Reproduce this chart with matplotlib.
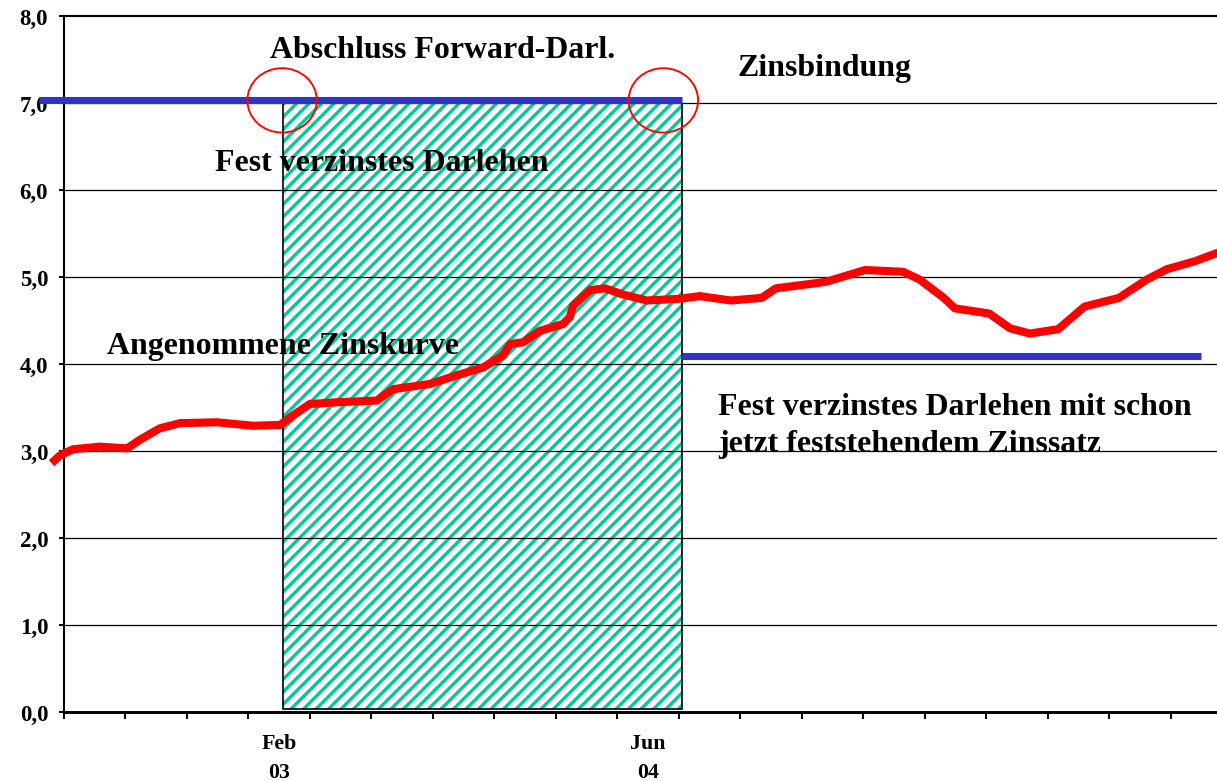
import matplotlib
matplotlib.use("Agg")
import matplotlib.pyplot as plt
from matplotlib.patches import Rectangle, Ellipse

# x in tick units (one unit = one tick interval), y in percent
curve_x = [-0.20, -0.06, 0.15, 0.59, 1.03, 1.24, 1.56, 1.89, 2.49, 3.08,
           3.52, 3.73, 4.00, 4.44, 5.09, 5.35, 5.95, 6.39, 6.82, 7.14,
           7.26, 7.47, 7.74, 8.12, 8.23, 8.28, 8.56, 8.80, 9.09, 9.48,
           10.02, 10.34, 10.85, 11.35, 11.58, 12.25, 12.42, 13.03, 13.65, 13.92,
           14.31, 14.49, 15.05, 15.39, 15.71, 16.17, 16.60, 17.16, 17.61, 17.94,
           18.39, 18.77]
curve_y = [2.86, 2.95, 3.02, 3.05, 3.03, 3.13, 3.26, 3.32, 3.33, 3.29,
           3.30, 3.41, 3.54, 3.56, 3.58, 3.71, 3.77, 3.87, 3.96, 4.10,
           4.23, 4.25, 4.38, 4.46, 4.54, 4.67, 4.85, 4.87, 4.80, 4.73,
           4.75, 4.78, 4.73, 4.76, 4.87, 4.93, 4.95, 5.08, 5.06, 4.97,
           4.76, 4.64, 4.58, 4.41, 4.35, 4.40, 4.66, 4.76, 4.97, 5.09,
           5.18, 5.28]

forward_x = [-0.40, 10.05]     # Zinsbindung (blue, top)
forward_y = [7.03, 7.03]
fixed_x = [10.05, 18.49]       # fest verzinstes Darlehen, spaeter
fixed_y = [4.09, 4.09]

rect_x0, rect_x1 = 3.56, 10.05
rect_y0, rect_y1 = 0.04, 7.0

circles = [(3.55, 7.03), (9.75, 7.03)]

y_ticks = [0, 1, 2, 3, 4, 5, 6, 7, 8]
y_labels = ["0,0", "1,0", "2,0", "3,0", "4,0", "5,0", "6,0", "7,0", "8,0"]
x_ticks = list(range(19))
x_label_pos = [3.5, 9.5]
x_labels = ["Feb\n03", "Jun\n04"]

W, H, DPI = 1218, 782, 150
fig = plt.figure(figsize=(W / DPI, H / DPI), dpi=DPI)
ax = fig.add_axes([63.8 / W, 69 / H, (W - 63.8) / W, 696 / H])
ax.set_xlim(0, 18.77)
ax.set_ylim(0, 8)

plt.rcParams["hatch.linewidth"] = 1.6
green = "#00C896"
ax.add_patch(Rectangle((rect_x0, rect_y0), rect_x1 - rect_x0, rect_y1 - rect_y0,
                       facecolor="white", edgecolor=green, hatch="////", lw=0, zorder=1))
ax.add_patch(Rectangle((rect_x0, rect_y0), rect_x1 - rect_x0, rect_y1 - rect_y0,
                       facecolor="none", edgecolor="black", lw=0.8, zorder=1.6))

for v in y_ticks[1:-1]:
    ax.axhline(v, color="black", lw=0.6, zorder=1.5)
ax.axhline(8, color="black", lw=1.0, zorder=1.5, clip_on=False)

ax.plot(forward_x, forward_y, color="#3333CC", lw=3.4, solid_capstyle="butt",
        clip_on=False, zorder=3)
ax.plot(fixed_x, fixed_y, color="#3333CC", lw=3.4, solid_capstyle="butt", zorder=3)
ax.plot(curve_x, curve_y, color="#FF0000", lw=3.9, solid_joinstyle="round",
        solid_capstyle="butt", clip_on=False, zorder=4)

for cx, cy in circles:
    ax.add_patch(Ellipse((cx, cy), 1.13, 0.74, facecolor="none", edgecolor="#FF0000",
                         lw=0.9, zorder=5))

for s in ["top", "right"]:
    ax.spines[s].set_visible(False)
ax.spines["left"].set_linewidth(1.0)
ax.spines["bottom"].set_linewidth(1.4)

font = dict(family="Liberation Serif", weight="bold")
ax.set_yticks(y_ticks)
ax.set_yticklabels(y_labels, fontsize=11, **font)
ax.tick_params(axis="y", length=2.5, width=1.0, pad=5)
ax.set_xticks(x_ticks)
ax.set_xticklabels([])
ax.tick_params(axis="x", which="major", length=3.5, width=1.0)
ax.set_xticks(x_label_pos, minor=True)
ax.set_xticklabels(x_labels, minor=True, fontsize=10.5, linespacing=1.6, **font)
ax.tick_params(axis="x", which="minor", length=0, pad=10)

big = dict(fontsize=15.3, color="black", va="center", ha="left", **font)
ax.text(3.35, 7.62, "Abschluss Forward-Darl.", **big)
ax.text(10.95, 7.41, "Zinsbindung", **big)
ax.text(2.46, 6.32, "Fest verzinstes Darlehen", zorder=6, **big)
ax.text(0.70, 4.21, "Angenommene Zinskurve", zorder=6, **big)
ax.text(10.64, 3.30, "Fest verzinstes Darlehen mit schon\njetzt feststehendem Zinssatz",
        linespacing=1.35, **big)

fig.savefig("out.png", dpi=DPI)
